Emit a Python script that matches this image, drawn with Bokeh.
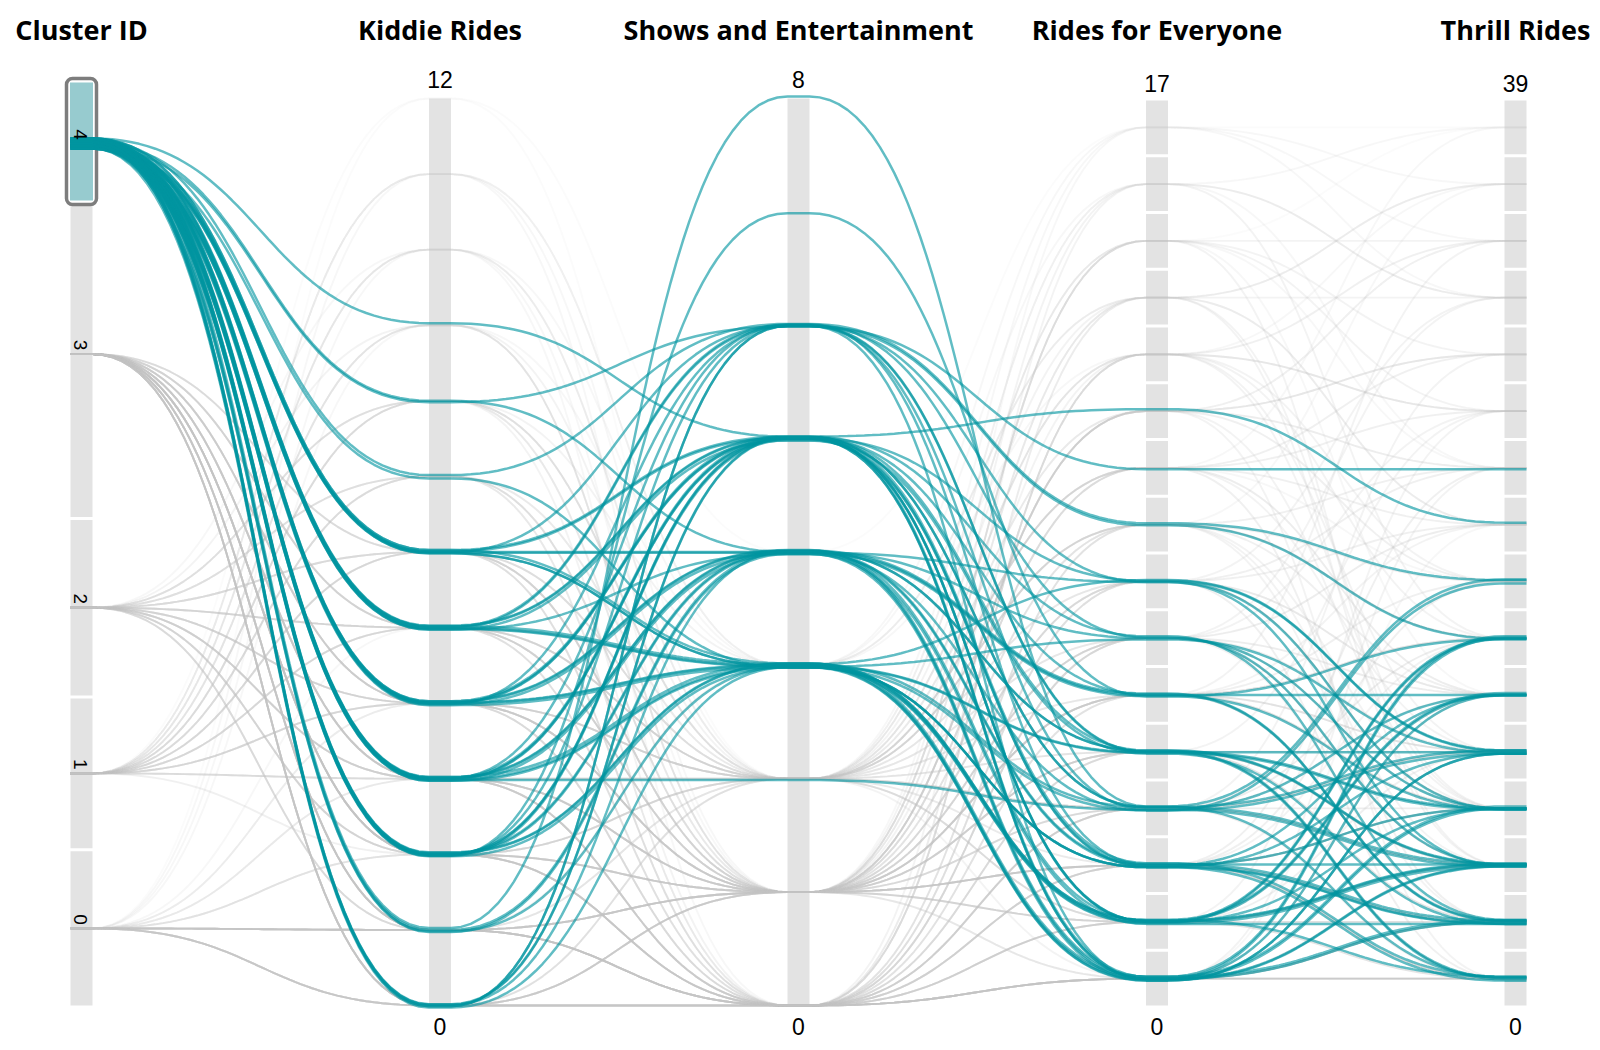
import numpy as np
from bokeh.plotting import figure
from bokeh.models import Range1d, ColumnDataSource
from bokeh.core.properties import value
from bokeh.embed import file_html
from bokeh.resources import INLINE

# ---------------- data ----------------
DIMENSIONS = ["Cluster ID", "Kiddie Rides", "Shows and Entertainment",
              "Rides for Everyone", "Thrill Rides"]
CLUSTER_IDS = [0, 1, 2, 3, 4]
SELECTED_CLUSTER = 4
KIDDIE_MAX = 12
SHOWS_MAX = 8
EVERYONE_LEVELS = [0, 1, 2, 3, 4, 5, 6, 7, 8, 9, 10, 11, 12, 13, 15, 17]
THRILL_LEVELS = [0, 1, 2, 3, 4, 5, 6, 7, 8, 9, 10, 11, 12, 14, 19, 39]

# parks in the brushed cluster (4), one entry per park
sel_kiddie = [9, 8, 8, 7, 7, 6, 6, 6, 6, 6, 5, 5, 5, 5, 5, 5, 4, 4, 4, 4, 4,
              4, 3, 3, 3, 3, 3, 3, 3, 2, 2, 2, 2, 2, 2, 1, 1, 1, 0, 0, 0, 0,
              6, 6, 6, 5, 5, 5, 4, 4, 4, 4, 3, 3, 3, 3, 2, 2, 2, 2, 1, 0, 0]
sel_shows = [5, 6, 4, 6, 3, 4, 5, 3, 3, 6, 5, 4, 3, 6, 5, 3, 5, 4, 3, 6, 5,
             4, 2, 5, 4, 3, 5, 4, 3, 7, 5, 4, 3, 6, 5, 8, 3, 4, 5, 3, 6, 4,
             5, 3, 4, 3, 5, 6, 3, 5, 4, 3, 5, 4, 3, 6, 3, 5, 4, 3, 4, 6, 5]
sel_everyone = [10, 9, 6, 8, 2, 7, 5, 1, 0, 4, 3, 0, 1, 2, 6, 4, 0, 1, 2, 3, 7,
                0, 3, 1, 5, 0, 2, 4, 1, 5, 0, 2, 3, 8, 1, 3, 6, 0, 4, 2, 7, 4,
                0, 1, 2, 3, 4, 0, 1, 2, 5, 0, 3, 1, 4, 6, 0, 2, 5, 7, 3, 4, 1]
sel_thrill = [8, 9, 3, 7, 4, 2, 1, 5, 2, 3, 0, 4, 6, 2, 1, 3, 1, 2, 0, 5, 4,
              6, 2, 3, 1, 4, 5, 2, 0, 6, 3, 1, 4, 6, 2, 7, 4, 5, 2, 1, 3, 0,
              1, 2, 3, 4, 1, 2, 5, 0, 3, 6, 2, 1, 4, 2, 3, 1, 5, 4, 7, 0, 6]

# parks in the other clusters, grouped by identical profile (parks = how many)
c3_kiddie = [0, 0, 1, 1, 2, 2, 2, 3, 3, 3, 4, 4, 4, 5, 5, 6, 6, 0, 1, 5, 2,
             0, 0, 1, 1, 2, 2, 3, 3, 4, 4, 5, 1, 0, 2, 3, 6, 1, 0, 2]
c3_shows = [0, 1, 0, 1, 0, 1, 2, 0, 1, 2, 0, 1, 2, 1, 0, 1, 2, 2, 3, 3, 0,
            0, 1, 0, 2, 1, 0, 0, 1, 0, 1, 2, 1, 0, 2, 2, 0, 0, 1, 1]
c3_everyone = [0, 1, 0, 2, 1, 3, 2, 2, 4, 3, 3, 5, 1, 4, 6, 5, 7, 4, 0, 3, 0,
               3, 5, 2, 6, 0, 4, 1, 7, 5, 2, 8, 3, 6, 9, 0, 4, 7, 8, 10]
c3_thrill = [0, 0, 1, 1, 2, 2, 0, 3, 1, 4, 2, 3, 5, 4, 2, 6, 3, 3, 2, 7, 1,
             4, 1, 3, 2, 5, 0, 6, 0, 8, 7, 1, 6, 3, 4, 9, 10, 5, 2, 3]
c3_parks = [14, 8, 12, 10, 10, 9, 6, 8, 8, 6, 7, 6, 5, 6, 5, 5, 4, 5, 4, 4, 10,
            6, 5, 6, 4, 5, 5, 4, 4, 3, 4, 3, 5, 4, 3, 3, 3, 3, 3, 3]

c2_kiddie = [1, 2, 3, 3, 4, 4, 5, 5, 6, 6, 7, 7, 8, 8, 2, 9, 10, 1, 3,
             3, 4, 5, 2, 6, 4, 7, 1, 5, 3, 6, 2, 8]
c2_shows = [1, 1, 0, 1, 1, 2, 1, 2, 0, 1, 2, 1, 2, 3, 2, 1, 2, 0, 2,
            1, 0, 1, 0, 2, 1, 0, 1, 2, 0, 1, 2, 1]
c2_everyone = [2, 4, 5, 6, 7, 8, 6, 9, 7, 10, 8, 11, 9, 12, 5, 10, 13, 3, 4,
               9, 11, 2, 8, 3, 12, 6, 10, 7, 11, 13, 1, 5]
c2_thrill = [3, 2, 4, 5, 3, 6, 4, 5, 8, 7, 9, 6, 10, 8, 7, 11, 9, 5, 0,
             1, 4, 9, 6, 11, 2, 10, 0, 12, 3, 5, 10, 14]
c2_parks = [6, 6, 6, 5, 6, 5, 5, 5, 4, 4, 4, 3, 4, 3, 4, 3, 2, 4, 3,
            4, 3, 4, 4, 3, 3, 3, 3, 3, 3, 2, 3, 3]

c1_kiddie = [4, 5, 5, 6, 6, 7, 7, 8, 8, 9, 9, 10, 10, 11, 11, 12, 3, 4, 2, 3,
             5, 6, 7, 8, 9, 4, 5, 6, 10, 8, 3, 7, 4, 11]
c1_shows = [1, 0, 2, 1, 2, 1, 0, 2, 1, 2, 1, 2, 1, 2, 3, 2, 1, 2, 1, 2,
            1, 0, 2, 0, 1, 1, 2, 1, 0, 2, 0, 1, 2, 1]
c1_everyone = [5, 8, 9, 10, 11, 9, 12, 11, 13, 12, 15, 13, 17, 15, 17, 13, 6, 8, 7, 10,
               12, 15, 10, 11, 8, 13, 15, 9, 12, 17, 11, 13, 6, 10]
c1_thrill = [6, 7, 8, 9, 10, 11, 12, 14, 10, 19, 12, 14, 19, 39, 14, 39, 8, 5, 9, 11,
             3, 6, 14, 7, 19, 11, 9, 39, 8, 12, 10, 2, 12, 14]
c1_parks = [5, 5, 4, 5, 4, 4, 3, 4, 3, 3, 3, 3, 2, 2, 2, 1, 5, 4, 4, 4,
            3, 3, 2, 3, 2, 3, 2, 2, 2, 2, 3, 3, 3, 2]

c0_kiddie = [1, 1, 0, 0, 1, 0, 3, 4, 5, 11, 12, 10, 2,
             0, 1, 0, 1, 2, 0, 1, 3, 4, 9, 2]
c0_shows = [0, 1, 0, 1, 0, 2, 1, 2, 1, 3, 4, 3, 0,
            0, 0, 1, 2, 0, 0, 1, 0, 1, 3, 1]
c0_everyone = [0, 1, 0, 2, 1, 3, 4, 5, 6, 15, 17, 12, 2,
               4, 3, 5, 1, 6, 7, 8, 2, 9, 11, 0]
c0_thrill = [0, 1, 1, 0, 2, 3, 2, 4, 3, 12, 39, 19, 1,
             2, 0, 3, 4, 1, 5, 3, 6, 7, 19, 8]
c0_parks = [14, 10, 10, 8, 8, 5, 3, 3, 2, 2, 1, 2, 4,
            5, 5, 4, 4, 3, 3, 3, 3, 2, 2, 2]

OTHERS = {
    0: (c0_kiddie, c0_shows, c0_everyone, c0_thrill, c0_parks),
    1: (c1_kiddie, c1_shows, c1_everyone, c1_thrill, c1_parks),
    2: (c2_kiddie, c2_shows, c2_everyone, c2_thrill, c2_parks),
    3: (c3_kiddie, c3_shows, c3_everyone, c3_thrill, c3_parks),
}

# ---------------- layout / style ----------------
W, H = 1592, 1042
AX = [81.0, 439.5, 798.0, 1156.5, 1515.0]   # axis centres
HALF = 11.0                                  # half width of an axis bar
TOP, BOT = 98.0, 1005.0                      # linear axes extent
BTOP, BBOT = 98.5, 1006.5                    # ordinal axes extent
GAP = 3.0
TEAL = "#00959f"
GREY = "#c4c4c4"
BAR = "#e3e3e3"

# cluster band sizes proportional to the number of parks
cl_totals = {c: 0 for c in CLUSTER_IDS}
cl_totals[SELECTED_CLUSTER] += len(sel_kiddie)
for c, arrs in OTHERS.items():
    cl_totals[c] += sum(arrs[4])
total = sum(cl_totals.values())
avail = (BOT - TOP) - GAP * (len(CLUSTER_IDS) - 1)
cl_band = {}
cur = BOT
for c in CLUSTER_IDS:
    h = cl_totals[c] / total * avail
    cl_band[c] = (cur - h, cur)
    cur -= h + GAP


def y_cluster(c):
    a, b = cl_band[c]
    return (a + b) / 2


def y_lin(v, vmax):
    return BOT - v / vmax * (BOT - TOP)


def y_ord(levels, v):
    h = (BBOT - BTOP) / len(levels)
    return BBOT - h * (levels.index(v) + 0.5)


tt = np.linspace(0, 1, 50)


def path(ys):
    xs_o = [AX[0] - HALF]
    ys_o = [ys[0]]
    for i in range(len(AX) - 1):
        x0, x1 = AX[i] + HALF, AX[i + 1] - HALF
        y0, y1 = ys[i], ys[i + 1]
        xm = (x0 + x1) / 2
        bx = (1 - tt) ** 3 * x0 + 3 * (1 - tt) ** 2 * tt * xm + 3 * (1 - tt) * tt ** 2 * xm + tt ** 3 * x1
        by = (1 - tt) ** 3 * y0 + 3 * (1 - tt) ** 2 * tt * y0 + 3 * (1 - tt) * tt ** 2 * y1 + tt ** 3 * y1
        xs_o += list(bx)
        ys_o += list(by)
    xs_o.append(AX[-1] + HALF)
    ys_o.append(ys[-1])
    return xs_o, ys_o


p = figure(width=W, height=H, x_range=Range1d(0, W), y_range=Range1d(H, 0),
           output_backend="svg", toolbar_location=None, min_border=0,
           x_axis_location=None, y_axis_location=None)
p.grid.visible = False
p.outline_line_color = None
p.background_fill_color = "white"

# ---- axis bars ----
bl, br, bt, bb = [], [], [], []
for x in (AX[1], AX[2]):
    bl.append(x - HALF); br.append(x + HALF); bt.append(TOP); bb.append(BOT)
for c in CLUSTER_IDS:
    a, b = cl_band[c]
    bl.append(AX[0] - HALF); br.append(AX[0] + HALF); bt.append(a); bb.append(b)
for x, levels in ((AX[3], EVERYONE_LEVELS), (AX[4], THRILL_LEVELS)):
    h = (BBOT - BTOP) / len(levels)
    for i in range(len(levels)):
        lo = BBOT - h * i
        bl.append(x - HALF); br.append(x + HALF)
        bt.append(lo - h + GAP / 2); bb.append(lo - GAP / 2)
p.quad(left=bl, right=br, top=bt, bottom=bb, fill_color=BAR, line_color=None)

# ---- brush on the selected cluster ----
a4, b4 = cl_band[SELECTED_CLUSTER]
p.quad(left=[AX[0] - 15.0], right=[AX[0] + 15.0], top=[a4 - 20], bottom=[b4 + 16],
       fill_color="white", line_color="#7d7d7d", line_width=3.5, border_radius=6)
p.quad(left=[AX[0] - 11.5], right=[AX[0] + 11.5], top=[a4 - 16], bottom=[b4 + 12],
       fill_color="#97cbcf", line_color=None)

# ---- other clusters (grey) ----
gx, gy, ga = [], [], []
for c, (ks, ss, es, ts, ns) in OTHERS.items():
    for k, s, e, t, n in zip(ks, ss, es, ts, ns):
        ys = [y_cluster(c), y_lin(k, KIDDIE_MAX), y_lin(s, SHOWS_MAX),
              y_ord(EVERYONE_LEVELS, e), y_ord(THRILL_LEVELS, t)]
        xs_, ys_ = path(ys)
        gx.append(xs_); gy.append(ys_); ga.append(1 - (1 - 0.07) ** n)
p.multi_line(xs="xs", ys="ys", line_alpha="a", line_color=GREY, line_width=1.9,
             source=ColumnDataSource(dict(xs=gx, ys=gy, a=ga)))

# ---- selected cluster (teal) ----
sx, sy = [], []
for i, (k, s, e, t) in enumerate(zip(sel_kiddie, sel_shows, sel_everyone, sel_thrill)):
    j = ((i * 5) % 7 - 3) / 3.0   # small spread so that bundles stay visible
    ys = [y_cluster(SELECTED_CLUSTER) + 5 * j, y_lin(k, KIDDIE_MAX) + 2.0 * j,
          y_lin(s, SHOWS_MAX) + 2.0 * j, y_ord(EVERYONE_LEVELS, e) + 2.0 * j,
          y_ord(THRILL_LEVELS, t) + 2.0 * j]
    xs_, ys_ = path(ys)
    sx.append(xs_); sy.append(ys_)
p.multi_line(xs="xs", ys="ys", line_color=TEAL, line_alpha=0.62, line_width=2.5,
             source=ColumnDataSource(dict(xs=sx, ys=sy)))

# ---- texts ----
p.text(x=AX, y=[29] * 5, text=DIMENSIONS, text_font=value("Open Sans"),
       text_font_style="bold", text_font_size="27px", text_align="center",
       text_baseline="middle", text_color="black")
top_labels = [str(KIDDIE_MAX), str(SHOWS_MAX), str(EVERYONE_LEVELS[-1]), str(THRILL_LEVELS[-1])]
p.text(x=AX[1:], y=[79, 79, 83, 83], text=top_labels,
       text_font=value("Liberation Sans"), text_font_size="23px", text_align="center",
       text_baseline="middle", text_color="black")
p.text(x=AX[1:], y=[1026] * 4,
       text=["0", "0", str(EVERYONE_LEVELS[0]), str(THRILL_LEVELS[0])],
       text_font=value("Liberation Sans"), text_font_size="23px", text_align="center",
       text_baseline="middle", text_color="black")
p.text(x=[AX[0] - 1] * len(CLUSTER_IDS), y=[y_cluster(c) - 9 for c in CLUSTER_IDS],
       text=[str(c) for c in CLUSTER_IDS], angle=-np.pi / 2,
       text_font=value("Liberation Sans"), text_font_size="19px", text_align="center",
       text_baseline="middle", text_color="black")

open("out.html", "w").write(file_html(p, INLINE))
